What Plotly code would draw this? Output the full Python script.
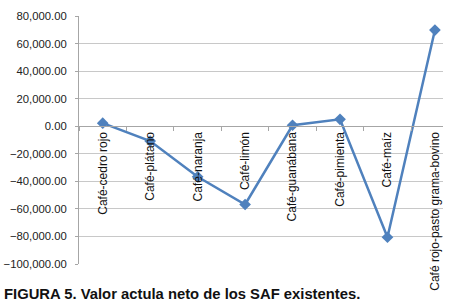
import plotly.graph_objects as go

categories = ["Café-cedro rojo", "Café-plátano", "Café-naranja", "Café-limón",
              "Café-guanábana", "Café-pimienta", "Café-maíz",
              "Café rojo-pasto grama-bovino"]
values = [2200, -10800, -36700, -56800, 700, 5000, -80600, 69800]
y_ticks = [80000, 60000, 40000, 20000, 0, -20000, -40000, -60000, -80000, -100000]

y_min, y_max = -100000, 80000
zero_pos = (0 - y_min) / (y_max - y_min)

plot_h = 306 - 16 - 42

fig = go.Figure()
fig.add_trace(go.Scatter(
    x=categories, y=values, mode="lines+markers",
    line=dict(color="#4F81BD", width=2.5),
    marker=dict(symbol="diamond", size=9, color="#4F81BD"),
    showlegend=False, hoverinfo="skip",
))

fig.update_layout(
    width=449, height=306,
    margin=dict(l=79, r=6, t=16, b=42, autoexpand=False),
    paper_bgcolor="white", plot_bgcolor="white",
    font=dict(family="Liberation Sans, Arial, sans-serif", size=11, color="#222"),
    xaxis=dict(
        type="category", range=[-0.5, 7.17], automargin=False,
        anchor="free", position=zero_pos,
        showline=True, linecolor="#a6a6a6", linewidth=1,
        ticks="outside", ticklen=4, tickcolor="#a6a6a6", tickson="boundaries",
        tickangle=-90, showgrid=False, zeroline=False,
        tickfont=dict(size=12, color="#111"),
    ),
    yaxis=dict(
        range=[y_min, y_max], tickvals=y_ticks, tickformat=",.2f", automargin=False,
        showline=True, linecolor="#a6a6a6", linewidth=1,
        ticks="outside", ticklen=3, tickcolor="#a6a6a6",
        showgrid=True, gridcolor="#c8c8c8", gridwidth=1, zeroline=False,
        tickfont=dict(size=11.3, color="#222"), ticklabelstandoff=6,
    ),
    annotations=[dict(
        text="<b>FIGURA 5. Valor actula neto de los SAF existentes.</b>",
        xref="paper", yref="paper", x=-77/364, y=-(294 - 264) / plot_h,
        xanchor="left", yanchor="middle", showarrow=False,
        font=dict(size=14.8, color="#111", family="Liberation Sans, Arial, sans-serif"),
    )],
)

fig.write_html("out.html", config={"displayModeBar": False},
               post_script="document.body.style.margin='0px';")
